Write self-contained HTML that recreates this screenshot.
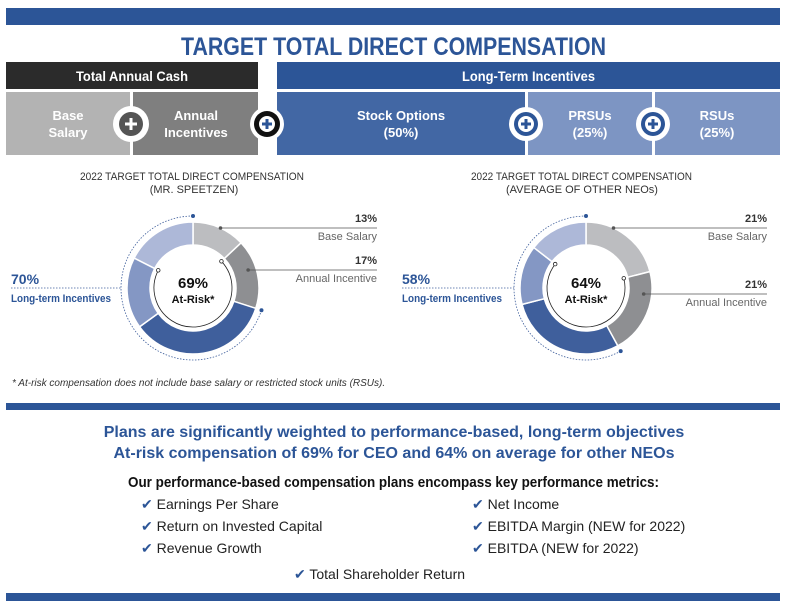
<!DOCTYPE html>
<html><head><meta charset="utf-8"><style>
body{margin:0;background:#fff;width:788px;height:610px;overflow:hidden}
svg{display:block;font-family:"Liberation Sans",sans-serif}
.b{font-weight:bold}
</style></head><body>
<svg width="788" height="610" viewBox="0 0 788 610">
<rect x="6" y="8" width="774" height="17" fill="#2c5597"/>
<text x="181" y="55" textLength="425" lengthAdjust="spacingAndGlyphs" font-size="25" class="b" fill="#2c5597">TARGET TOTAL DIRECT COMPENSATION</text>
<rect x="6" y="62" width="252" height="27" fill="#2b2b2b"/>
<text x="76" y="81" textLength="112" lengthAdjust="spacingAndGlyphs" font-size="14" class="b" fill="#fff">Total Annual Cash</text>
<rect x="277" y="62" width="503" height="27" fill="#2c5597"/>
<text x="462" y="81" textLength="133" lengthAdjust="spacingAndGlyphs" font-size="14" class="b" fill="#fff">Long-Term Incentives</text>
<g font-size="13" class="b" fill="#fff" text-anchor="middle">
<rect x="6" y="92" width="124" height="63" fill="#b3b3b3"/>
<text x="68" y="120">Base</text><text x="68" y="137">Salary</text>
<rect x="133" y="92" width="125" height="63" fill="#7f7f7f"/>
<text x="196" y="120">Annual</text><text x="196" y="137">Incentives</text>
<rect x="277" y="92" width="248" height="63" fill="#4267a4"/>
<text x="401" y="120">Stock Options</text><text x="401" y="137">(50%)</text>
<rect x="528" y="92" width="124" height="63" fill="#7d95c3"/>
<text x="590" y="120">PRSUs</text><text x="590" y="137">(25%)</text>
<rect x="655" y="92" width="125" height="63" fill="#7d95c3"/>
<text x="717" y="120">RSUs</text><text x="717" y="137">(25%)</text>
</g>
<g>
<circle cx="131" cy="124" r="18" fill="#fff"/><circle cx="131" cy="124" r="12" fill="#555"/><path d="M131 118v12M125 124h12" stroke="#fff" stroke-width="3"/>
<circle cx="267" cy="124" r="17" fill="#fff"/><circle cx="267" cy="124" r="13" fill="#111"/><circle cx="267" cy="124" r="8" fill="#fff"/><path d="M267 119v10M262 124h10" stroke="#2c5597" stroke-width="3"/>
<circle cx="526" cy="124" r="17" fill="#fff"/><circle cx="526" cy="124" r="12" fill="#2c5597"/><circle cx="526" cy="124" r="8" fill="#fff"/><path d="M526 119v10M521 124h10" stroke="#2c5597" stroke-width="3"/>
<circle cx="653" cy="124" r="17" fill="#fff"/><circle cx="653" cy="124" r="12" fill="#2c5597"/><circle cx="653" cy="124" r="8" fill="#fff"/><path d="M653 119v10M648 124h10" stroke="#2c5597" stroke-width="3"/>
</g>
<g font-size="11" fill="#333">
<text x="80" y="180" textLength="224" lengthAdjust="spacingAndGlyphs">2022 TARGET TOTAL DIRECT COMPENSATION</text><text x="194" y="193" text-anchor="middle">(MR. SPEETZEN)</text>
<text x="471" y="180" textLength="221" lengthAdjust="spacingAndGlyphs">2022 TARGET TOTAL DIRECT COMPENSATION</text><text x="582" y="193" text-anchor="middle">(AVERAGE OF OTHER NEOs)</text>
</g>
<g id="charts"></g>
<text x="12" y="386" font-size="10" font-style="italic" fill="#333">* At-risk compensation does not include base salary or restricted stock units (RSUs).</text>
<rect x="6" y="403" width="774" height="7" fill="#2c5597"/>
<g class="b" fill="#2c5597" font-size="16" text-anchor="middle">
<text x="394" y="437">Plans are significantly weighted to performance-based, long-term objectives</text>
<text x="394" y="458">At-risk compensation of 69% for CEO and 64% on average for other NEOs</text>
</g>
<text x="128" y="487" textLength="531" lengthAdjust="spacingAndGlyphs" font-size="15" class="b" fill="#111">Our performance-based compensation plans encompass key performance metrics:</text>
<g font-size="14" fill="#222">
<text x="141" y="509"><tspan fill="#2c5597">✔</tspan> Earnings Per Share</text>
<text x="141" y="531"><tspan fill="#2c5597">✔</tspan> Return on Invested Capital</text>
<text x="141" y="553"><tspan fill="#2c5597">✔</tspan> Revenue Growth</text>
<text x="472" y="509"><tspan fill="#2c5597">✔</tspan> Net Income</text>
<text x="472" y="531"><tspan fill="#2c5597">✔</tspan> EBITDA Margin (NEW for 2022)</text>
<text x="472" y="553"><tspan fill="#2c5597">✔</tspan> EBITDA (NEW for 2022)</text>
<text x="294" y="579"><tspan fill="#2c5597">✔</tspan> Total Shareholder Return</text>
</g>
<rect x="6" y="593" width="774" height="8" fill="#2c5597"/>
</svg>
<script>
const segNames=['base-salary','annual-incentive','stock-options','prsus','rsus'];
const ceoValues=[13,17,35,17.5,17.5];
const neoValues=[21,21,29,14.5,14.5];
const ceoLabels=['13%','17%','70%','69%'];
const neoLabels=['21%','21%','58%','64%'];
const colors=['#bcbdc0','#8e8f92','#3f5f9c','#8497c4','#adb8d8'];
const NS='http://www.w3.org/2000/svg';
const g=document.getElementById('charts');
function mk(t,a,p){const e=document.createElementNS(NS,t);for(const k in a)e.setAttribute(k,a[k]);(p||g).appendChild(e);return e;}
function pt(cx,cy,r,pct){const a=(pct/100)*2*Math.PI-Math.PI/2;return[cx+r*Math.cos(a),cy+r*Math.sin(a)];}
function arcPath(cx,cy,r,p0,p1){const[a,b]=pt(cx,cy,r,p0),[c,d]=pt(cx,cy,r,p1);return`M${a} ${b}A${r} ${r} 0 ${p1-p0>50?1:0} 1 ${c} ${d}`;}
function donut(cx,cy,vals,labels,name,lx,rx,leadDy){
 const grp=mk('g',{});
 
 
 const R=66,r=43;let acc=0;
 vals.forEach((v,i)=>{const p0=acc,p1=acc+v;acc=p1;
  const[a,b]=pt(cx,cy,R,p0),[c,d]=pt(cx,cy,R,p1),[e,f]=pt(cx,cy,r,p1),[h,k]=pt(cx,cy,r,p0);
  const lg=v>50?1:0;
  const s=mk('path',{d:`M${a} ${b}A${R} ${R} 0 ${lg} 1 ${c} ${d}L${e} ${f}A${r} ${r} 0 ${lg} 0 ${h} ${k}Z`,fill:colors[i],stroke:'#fff','stroke-width':1.5},grp);
  
  });
 const ltiStart=vals[0]+vals[1];
 mk('path',{d:arcPath(cx,cy,R+6,ltiStart,100),fill:'none',stroke:'#3f5f9c','stroke-width':0.8,'stroke-dasharray':'1.5 1.5'},grp);
 let[q1,q2]=pt(cx,cy,R+6,ltiStart);mk('circle',{cx:q1,cy:q2,r:2,fill:'#2c5597'},grp);
 [q1,q2]=pt(cx,cy,R+6,100);mk('circle',{cx:q1,cy:q2,r:2,fill:'#2c5597'},grp);
 const arS=vals[0],arE=100-vals[4],ar=r-4;
 mk('path',{d:arcPath(cx,cy,ar,arS,arE),fill:'none',stroke:'#222','stroke-width':0.8},grp);
 [q1,q2]=pt(cx,cy,ar,arS);mk('circle',{cx:q1,cy:q2,r:1.8,fill:'#fff',stroke:'#222','stroke-width':0.8},grp);
 [q1,q2]=pt(cx,cy,ar,arE);mk('circle',{cx:q1,cy:q2,r:1.8,fill:'#fff',stroke:'#222','stroke-width':0.8},grp);
 const names=['Base Salary','Annual Incentive'];
 [0,1].forEach(i=>{const dy=leadDy[i],y=cy+dy;const rr=(R-8)>Math.abs(dy)?R-8:R;
  const x=cx+Math.sqrt(Math.max(0,rr*rr-dy*dy));
  mk('line',{x1:x,y1:y,x2:rx,y2:y,stroke:'#555','stroke-width':0.8},grp);
  mk('circle',{cx:x,cy:y,r:1.8,fill:'#555'},grp);
  const t=mk('text',{x:rx,y:y-6,'text-anchor':'end','font-size':11,'font-weight':'bold',fill:'#333'},grp);t.textContent=labels[i];
  const t2=mk('text',{x:rx,y:y+12,'text-anchor':'end','font-size':11,fill:'#666'},grp);t2.textContent=names[i];});
 const ly=cy;
 mk('line',{x1:lx,y1:ly,x2:cx-R-6,y2:ly,stroke:'#3f5f9c','stroke-width':0.8,'stroke-dasharray':'1.5 1.5'},grp);
 let t=mk('text',{x:lx,y:ly-4,'font-size':14,'font-weight':'bold',fill:'#2c5597'},grp);t.textContent=labels[2];
 t=mk('text',{x:lx,y:ly+14,'font-size':11,'font-weight':'bold',fill:'#2c5597',textLength:100,lengthAdjust:'spacingAndGlyphs'},grp);t.textContent='Long-term Incentives';
 t=mk('text',{x:cx,y:cy,'text-anchor':'middle','font-size':15,'font-weight':'bold',fill:'#111'},grp);t.textContent=labels[3];
 t=mk('text',{x:cx,y:cy+15,'text-anchor':'middle','font-size':11,'font-weight':'bold',fill:'#111'},grp);t.textContent='At-Risk*';
}
donut(193,288,ceoValues,ceoLabels,'ceo-donut',11,377,[-60,-18]);
donut(586,288,neoValues,neoLabels,'neo-donut',402,767,[-60,6]);
</script>
</body></html>
